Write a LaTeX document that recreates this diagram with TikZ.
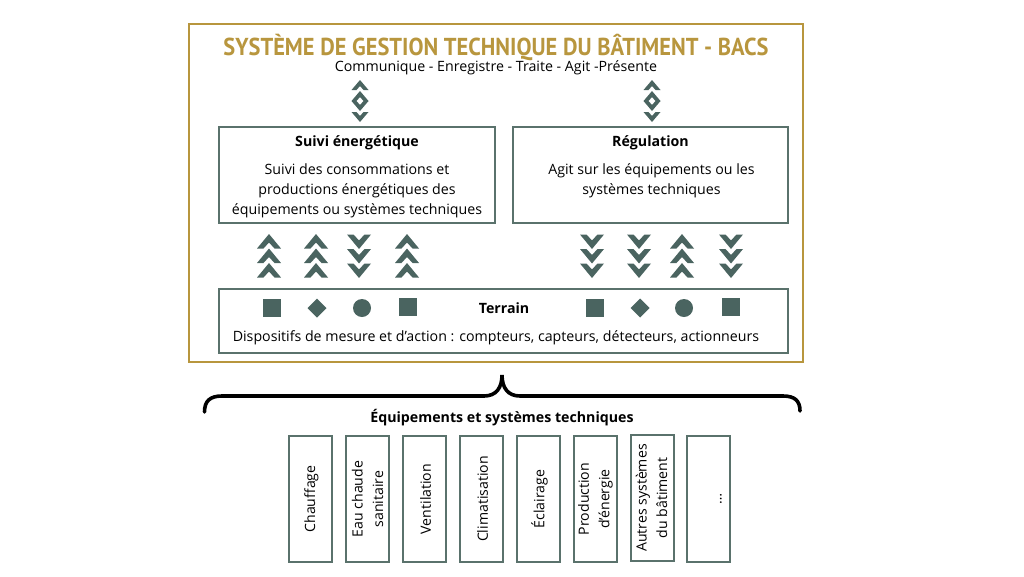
\documentclass[tikz,border=0pt]{standalone}
\usepackage{fontspec}
\setmainfont{Open Sans}
\newfontfamily\titlefont{PT Sans}
\definecolor{gold}{HTML}{B8963E}
\definecolor{slate}{HTML}{4A6460}
\definecolor{frame}{HTML}{5A726C}
\tikzset{
  goldbox/.style={draw=gold,line width=2.2pt,minimum width=614pt,minimum height=338pt,inner sep=0pt},
  framebox/.style={draw=frame,line width=2.1pt,inner sep=0pt},
  label/.style={inner sep=0pt,font=\fontsize{14.2}{20}\selectfont,align=center},
  heading/.style={inner sep=0pt,font=\fontsize{14.2}{20}\selectfont\bfseries},
  eqbox/.style={framebox,minimum width=43pt,minimum height=126pt},
  eqtext/.style={inner sep=0pt,rotate=90,align=center,font=\fontsize{14.1}{20.5}\selectfont},
  chevup/.pic={\fill[slate] (0,0) -- (12,14.5) -- (5.5,14.5) -- (0,8.5) -- (-5.5,14.5) -- (-12,14.5) -- cycle;},
  chevdown/.pic={\fill[slate] (0,0) -- (12,-14.5) -- (5.5,-14.5) -- (0,-8.5) -- (-5.5,-14.5) -- (-12,-14.5) -- cycle;},
  smallup/.pic={\fill[slate] (0,0) -- (8.5,10) -- (3.5,10) -- (0,6) -- (-3.5,10) -- (-8.5,10) -- cycle;},
  smalldown/.pic={\fill[slate] (0,0) -- (8.5,-10) -- (3.5,-10) -- (0,-6) -- (-3.5,-10) -- (-8.5,-10) -- cycle;}
}
\newcommand{\upstack}[1]{\foreach \d in {234,248.5,263} {\pic at (#1,\d) {chevup};}}
\newcommand{\downstack}[1]{\foreach \d in {249,263.5,278} {\pic at (#1,\d) {chevdown};}}
\newcommand{\bothstack}[1]{
  \foreach \d in {80,91} {\pic at (#1,\d) {smallup};}
  \foreach \d in {111,122} {\pic at (#1,\d) {smalldown};}
}
\begin{document}
\begin{tikzpicture}[x=1pt,y=-1pt]
\useasboundingbox (0,0) rectangle (1024,576);
% main frame
\node[goldbox] (bacs) at (496,193) {};
\node[inner sep=0pt,text=gold] (bacstitle) at (496,47) {\scalebox{0.915}[1]{\titlefont\fontsize{24.5}{26}\selectfont\bfseries SYSTÈME DE GESTION TECHNIQUE DU BÂTIMENT - BACS}};
\node[label] (bacssub) at (496,67.5) {Communique - Enregistre - Traite - Agit -Présente};
\bothstack{360}
\bothstack{652}
% two upper boxes
\node[framebox,minimum width=276pt,minimum height=96pt] (suivi) at (357,175) {};
\node[framebox,minimum width=275pt,minimum height=96pt] (regul) at (650.5,175) {};
\node[heading] (suivihead) at (357,142.5) {Suivi énergétique};
\node[heading] (regulhead) at (650.5,142.5) {Régulation};
\node[label] (suivitext) at (357,191) {Suivi des consommations et\\productions énergétiques des\\équipements ou systèmes techniques};
\node[label] (regultext) at (651.5,181) {Agit sur les équipements ou les\\systèmes techniques};
% chevrons
\upstack{269}
\upstack{316}
\downstack{359}
\upstack{407}
\downstack{592}
\downstack{639}
\upstack{682}
\downstack{731}
% field level
\node[framebox,minimum width=569pt,minimum height=64pt] (terrain) at (503.5,321) {};
\node[heading] (terrainhead) at (504,308) {Terrain};
\node[label] (terraintext) at (496,338) {Dispositifs de mesure et d’action : compteurs, capteurs, détecteurs, actionneurs};
\foreach \x/\y in {272/308,408/307,595/308,731/307} {\fill[slate] (\x-9,\y-9) rectangle (\x+9,\y+9);}
\foreach \x in {317,640} {\fill[slate] (\x-9.5,308) -- (\x,298.5) -- (\x+9.5,308) -- (\x,317.5) -- cycle;}
\foreach \x in {362,684} {\fill[slate] (\x,308) circle (9);}
% brace
\draw[line width=3.6pt,line cap=round] (204.5,412) .. controls (204.5,401) and (210,396) .. (222,396) -- (484,396) .. controls (496,396) and (502,388) .. (502,375) .. controls (502,388) and (508,396) .. (520,396) -- (783,396) .. controls (795,396) and (800,401) .. (800,411);
\node[heading] (eqhead) at (502,418) {Équipements et systèmes techniques};
% equipment
\foreach \i/\x/\y/\tx/\txt in {1/310.5/499/311.5/Chauffage,2/367.5/499/367.5/{Eau chaude\\sanitaire},3/424.5/499/425.5/Ventilation,4/481.5/499/482.5/Climatisation,5/538.5/499/539.5/Éclairage,6/595.5/499/595.5/{Production\\d’énergie},7/652.5/498/651.5/{Autres systèmes\\du bâtiment},8/708.5/499/721/{\ldots}} {
  \node[eqbox] (eq\i) at (\x,\y) {};
  \node[eqtext] (eqtext\i) at (\tx,\y) {\txt};
}
\end{tikzpicture}
\end{document}
